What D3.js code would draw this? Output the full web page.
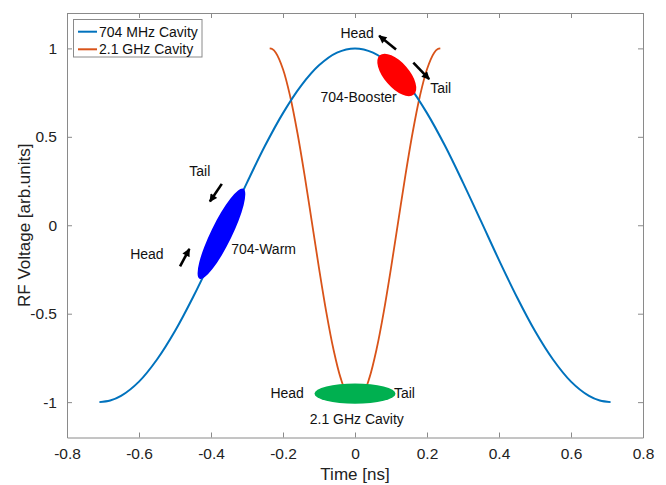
<!DOCTYPE html>
<html>
<head>
<meta charset="utf-8">
<script src="https://cdn.jsdelivr.net/npm/d3@7"></script>
<style>
  html, body { margin: 0; padding: 0; background: #fff; }
  svg { display: block; font-family: "Liberation Sans", Arial, sans-serif; }
</style>
</head>
<body>
<svg id="chart" width="666" height="485"></svg>
<script>
// 704 MHz cavity voltage over one half period each side of the crest
const t704 = [-0.71, -0.68, -0.65, -0.60, -0.55, -0.50, -0.45, -0.40, -0.35, -0.30, -0.25, -0.20, -0.15, -0.10, -0.05, 0,
              0.05, 0.10, 0.15, 0.20, 0.25, 0.30, 0.35, 0.40, 0.45, 0.50, 0.55, 0.60, 0.65, 0.68, 0.71];
const v704 = [-1.00, -0.991, -0.965, -0.884, -0.759, -0.598, -0.407, -0.197, 0.023, 0.241, 0.449, 0.634, 0.788, 0.904, 0.976, 1.00,
              0.976, 0.904, 0.788, 0.634, 0.449, 0.241, 0.023, -0.197, -0.407, -0.598, -0.759, -0.884, -0.965, -0.991, -1.00];

// 2.1 GHz cavity voltage, trough at t = 0
const t21 = [-0.237, -0.23, -0.22, -0.20, -0.18, -0.16, -0.14, -0.12, -0.10, -0.08, -0.06, -0.04, -0.02, 0,
             0.02, 0.04, 0.06, 0.08, 0.10, 0.12, 0.14, 0.16, 0.18, 0.20, 0.22, 0.23, 0.237];
const v21 = [1.00, 0.996, 0.975, 0.882, 0.728, 0.523, 0.282, 0.020, -0.242, -0.488, -0.700, -0.863, -0.965, -1.00,
             -0.965, -0.863, -0.700, -0.488, -0.242, 0.020, 0.282, 0.523, 0.728, 0.882, 0.975, 0.996, 1.00];

const seriesNames = ["704 MHz Cavity", "2.1 GHz Cavity"];
const xTicks = [-0.8, -0.6, -0.4, -0.2, 0, 0.2, 0.4, 0.6, 0.8];
const yTicks = [-1, -0.5, 0, 0.5, 1];

// Bunch positions (time, voltage) on the RF waveforms
const bunchNames = ["704-Warm", "704-Booster", "2.1 GHz Cavity"];
const bunchT = [-0.371, 0.116, 0];
const bunchV = [-0.048, 0.85, -0.952];

// Head/tail direction arrows: start and tip in (time, voltage)
const arrowT0 = [-0.370, -0.486, 0.114, 0.162];
const arrowV0 = [0.234, -0.232, 0.994, 0.920];
const arrowT1 = [-0.403, -0.460, 0.067, 0.206];
const arrowV1 = [0.134, -0.134, 1.071, 0.826];

// Text annotations: label, time, voltage
const noteText = ["Tail", "Head", "704-Warm", "Head", "Tail", "704-Booster", "Head", "Tail", "2.1 GHz Cavity"];
const noteT = [-0.431, -0.578, -0.344, 0.006, 0.238, 0.116, -0.142, 0.108, 0.005];
const noteV = [0.307, -0.161, -0.133, 1.088, 0.776, 0.727, -0.951, -0.951, -1.098];

const svg = d3.select("#chart");
const plotL = 67, plotR = 643, plotT = 13, plotB = 437.5;

const x = d3.scaleLinear().domain([-0.8, 0.8]).range([plotL, plotR]);
const y = d3.scaleLinear().domain([-1.2, 1.2]).range([plotB, plotT]);

const axisColor = "#8a8a8a";
const fmt = d => String(d);

// Axes with inward ticks on all four sides
const gx = svg.append("g").attr("transform", `translate(0,${plotB})`)
  .call(d3.axisBottom(x).tickValues(xTicks).tickSizeInner(-5).tickSizeOuter(0).tickPadding(10).tickFormat(fmt));
const gxt = svg.append("g").attr("transform", `translate(0,${plotT})`)
  .call(d3.axisTop(x).tickValues(xTicks).tickSizeInner(-5).tickSizeOuter(0).tickFormat(""));
const gy = svg.append("g").attr("transform", `translate(${plotL},0)`)
  .call(d3.axisLeft(y).tickValues(yTicks).tickSizeInner(-5).tickSizeOuter(0).tickPadding(10).tickFormat(fmt));
const gyr = svg.append("g").attr("transform", `translate(${plotR},0)`)
  .call(d3.axisRight(y).tickValues(yTicks).tickSizeInner(-5).tickSizeOuter(0).tickFormat(""));

[gx, gxt, gy, gyr].forEach(g => {
  g.select(".domain").attr("stroke", axisColor);
  g.selectAll(".tick line").attr("stroke", axisColor);
  g.selectAll(".tick text").attr("fill", "#222").style("font-size", "15.5px")
    .style("font-family", "'Liberation Sans', Arial, sans-serif");
});
gx.selectAll(".tick text").attr("dy", "0.75em");

svg.append("text").attr("x", (plotL + plotR) / 2).attr("y", 480)
  .attr("text-anchor", "middle").attr("fill", "#222").style("font-size", "17px")
  .text("Time [ns]");
svg.append("text").attr("transform", `translate(30,${(plotT + plotB) / 2}) rotate(-90)`)
  .attr("text-anchor", "middle").attr("fill", "#222").style("font-size", "17px")
  .text("RF Voltage [arb.units]");

// Waveforms
const line = d3.line().x(d => x(d[0])).y(d => y(d[1])).curve(d3.curveCatmullRom);
const blue = "#0072BD", orange = "#D95319";

svg.append("path").datum(d3.zip(t21, v21)).attr("d", line)
  .attr("fill", "none").attr("stroke", orange).attr("stroke-width", 1.8);
svg.append("path").datum(d3.zip(t704, v704)).attr("d", line)
  .attr("fill", "none").attr("stroke", blue).attr("stroke-width", 2);

// Bunches drawn as ellipses aligned with the local slope
const bunchFill = ["#0000FF", "#FF0000", "#00B050"];
const bunchRx = [50, 26, 40.5];
const bunchRy = [10.5, 12.5, 10.2];
const bunchRot = [-64, 49, 0];
bunchNames.forEach((n, i) => {
  svg.append("ellipse")
    .attr("transform", `translate(${x(bunchT[i])},${y(bunchV[i])}) rotate(${bunchRot[i]})`)
    .attr("rx", bunchRx[i]).attr("ry", bunchRy[i])
    .attr("fill", bunchFill[i]);
});

// Arrows
svg.append("defs").append("marker")
  .attr("id", "head").attr("viewBox", "0 0 10 10")
  .attr("refX", 9).attr("refY", 5)
  .attr("markerUnits", "userSpaceOnUse")
  .attr("markerWidth", 9).attr("markerHeight", 8)
  .attr("orient", "auto")
  .append("path").attr("d", "M0,0 L10,5 L0,10 Z").attr("fill", "#000");

arrowT0.forEach((t, i) => {
  svg.append("line")
    .attr("x1", x(t)).attr("y1", y(arrowV0[i]))
    .attr("x2", x(arrowT1[i])).attr("y2", y(arrowV1[i]))
    .attr("stroke", "#000").attr("stroke-width", 2.6)
    .attr("marker-end", "url(#head)");
});

// Annotations
const noteAnchor = ["middle", "middle", "start", "middle", "middle", "end", "end", "start", "middle"];
noteText.forEach((s, i) => {
  svg.append("text")
    .attr("x", x(noteT[i])).attr("y", y(noteV[i]))
    .attr("dy", "0.35em")
    .attr("text-anchor", noteAnchor[i])
    .attr("fill", "#111").style("font-size", "14px")
    .text(s);
});

// Legend
const lg = svg.append("g");
lg.append("rect").attr("x", 73.5).attr("y", 19.5).attr("width", 128.5).attr("height", 37.5)
  .attr("fill", "#fff").attr("stroke", axisColor);
[blue, orange].forEach((c, i) => {
  const yy = 31.7 + i * 17.6;
  lg.append("line").attr("x1", 78).attr("x2", 97).attr("y1", yy).attr("y2", yy)
    .attr("stroke", c).attr("stroke-width", 2);
  lg.append("text").attr("x", 99).attr("y", yy).attr("dy", "0.35em")
    .attr("fill", "#111").style("font-size", "14px").text(seriesNames[i]);
});
</script>
</body>
</html>
